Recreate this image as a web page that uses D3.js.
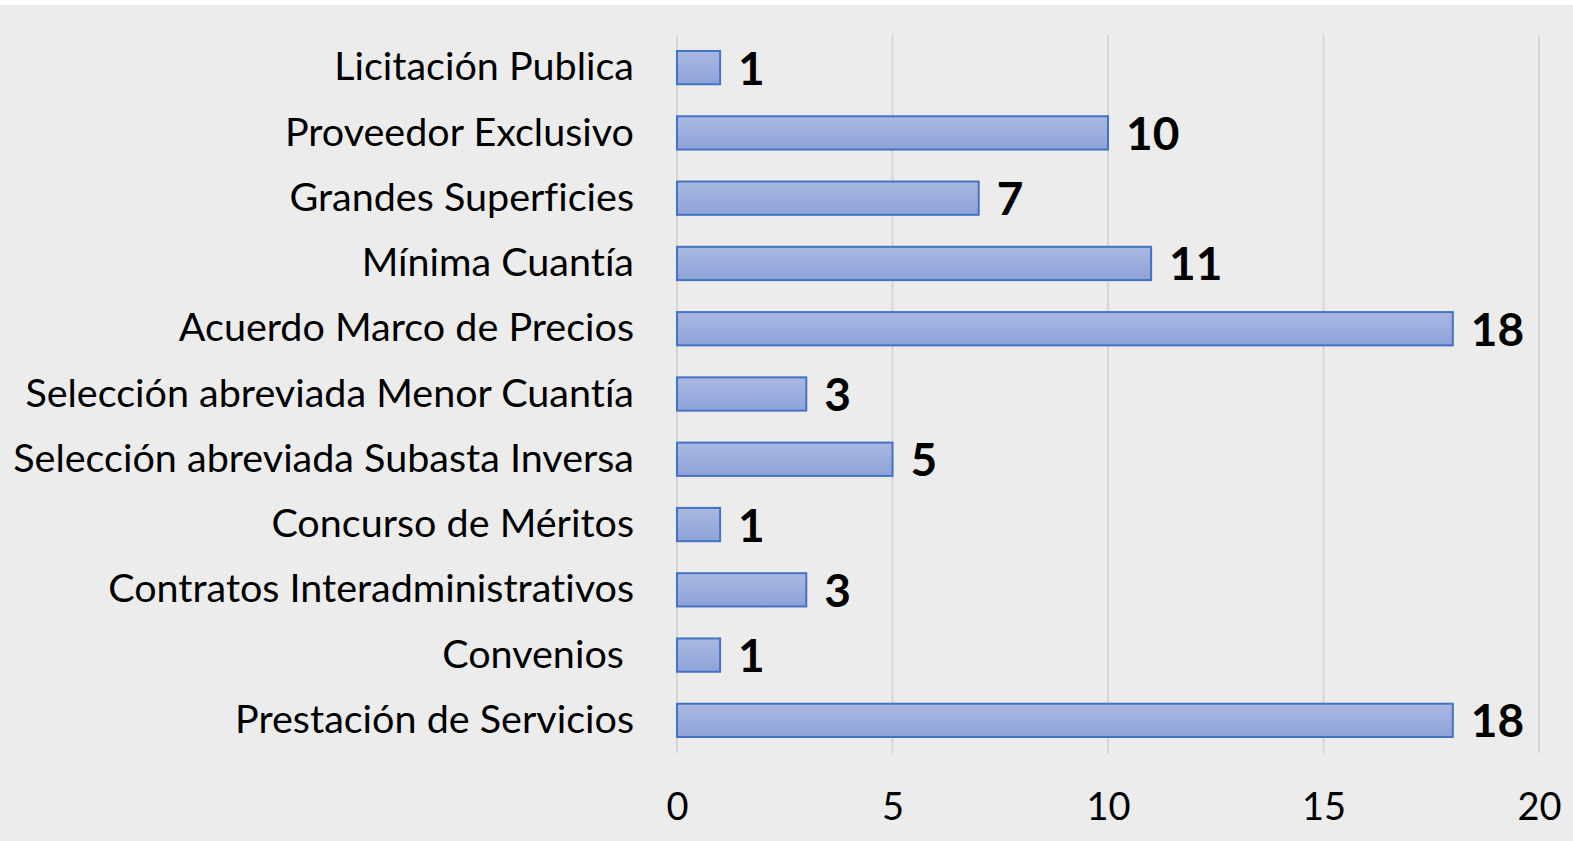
<!DOCTYPE html>
<html>
<head>
<meta charset="utf-8">
<script src="https://cdn.jsdelivr.net/npm/d3@7"></script>
<style>
  body { margin: 0; background: #fff; }
  svg text { font-family: Lato, "Open Sans", sans-serif; font-variant-ligatures: none; white-space: pre; }
</style>
</head>
<body>
<div id="chart"></div>
<script>
// chart data, top to bottom
let categories = [
    "Licitación Publica",
    "Proveedor Exclusivo",
    "Grandes Superficies",
    "Mínima Cuantía",
    "Acuerdo Marco de Precios",
    "Selección abreviada Menor Cuantía",
    "Selección abreviada Subasta Inversa",
    "Concurso de Méritos",
    "Contratos Interadministrativos",
    "Convenios ",
    "Prestación de Servicios"
];
let values = [1, 10, 7, 11, 18, 3, 5, 1, 3, 1, 18];
let ticks = [0, 5, 10, 15, 20];

let width = 1573;
let height = 841;

let margin = { top: 35, right: 34, bottom: 88, left: 677 };
let chartWidth = width - margin.left - margin.right;
let chartHeight = height - margin.top - margin.bottom;

let svg = d3.select("#chart").append("svg").attr("width", width).attr("height", height);

// chart background, white strip on top
svg.append("rect").attr("x", 0).attr("y", 5).attr("width", width).attr("height", height - 5).attr("fill", "#ececec");

let defs = svg.append("defs");
let grad = defs.append("linearGradient").attr("id", "barGrad").attr("x1", 0).attr("y1", 0).attr("x2", 0).attr("y2", 1);
grad.append("stop").attr("offset", "0%").attr("stop-color", "#aab9e2");
grad.append("stop").attr("offset", "100%").attr("stop-color", "#8da2d8");

let chartGroup = svg.append("g").attr("transform", `translate(${margin.left}, ${margin.top})`);

let xScale = d3.scaleLinear().domain([0, 20]).range([0, chartWidth]);
let yScale = d3.scaleBand().domain(categories).range([0, chartHeight]).paddingInner(0.49).paddingOuter(0.245);

// gridlines
chartGroup.append("g").selectAll("line").data(ticks).enter().append("line")
    .attr("x1", d => xScale(d)).attr("x2", d => xScale(d))
    .attr("y1", 0).attr("y2", chartHeight)
    .attr("stroke", "#d6d6d6").attr("stroke-width", 2);

// x axis
let xAxis = d3.axisBottom(xScale).tickValues(ticks).tickSize(0).tickPadding(40);
let xg = chartGroup.append("g").attr("transform", `translate(0, ${chartHeight})`).call(xAxis);
xg.select(".domain").remove();
xg.selectAll("text").attr("font-size", "38px").attr("fill", "#000").style("font-family", "Lato, sans-serif");

// y axis labels
let yAxis = d3.axisLeft(yScale).tickSize(0).tickPadding(43);
let yg = chartGroup.append("g").call(yAxis);
yg.select(".domain").remove();
yg.selectAll("text").attr("font-size", "39.5px").attr("fill", "#000").style("font-family", "Lato, sans-serif");

// bars
chartGroup.selectAll(".bar").data(values).enter().append("rect")
    .attr("class", "bar")
    .attr("x", xScale(0))
    .attr("y", (d, i) => yScale(categories[i]))
    .attr("width", d => xScale(d) - xScale(0))
    .attr("height", yScale.bandwidth())
    .attr("fill", "url(#barGrad)")
    .attr("stroke", "#4472c4")
    .attr("stroke-width", 2);

// value labels
chartGroup.selectAll(".val").data(values).enter().append("text")
    .attr("class", "val")
    .attr("x", d => xScale(d) + 18)
    .attr("y", (d, i) => yScale(categories[i]) + yScale.bandwidth() / 2)
    .attr("dy", "0.37em")
    .attr("font-size", "46px")
    .attr("font-weight", "bold")
    .attr("fill", "#000")
    .text(d => d);
</script>
</body>
</html>
